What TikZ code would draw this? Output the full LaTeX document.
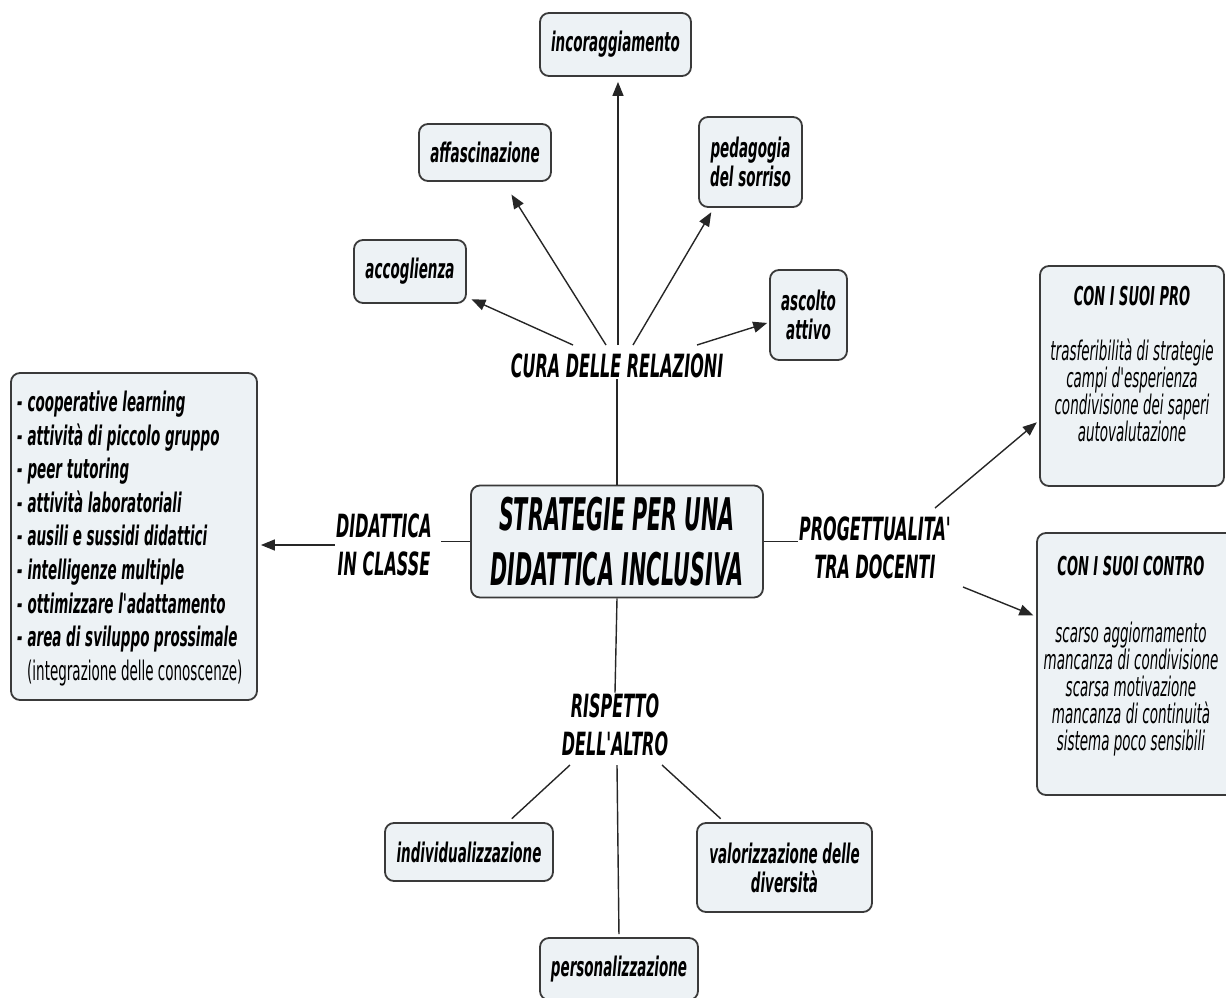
\documentclass[tikz,border=0pt]{standalone}
\usepackage{fontspec}
\setmainfont{DejaVu Sans}[FakeStretch=0.5, Ligatures=TeXOff]
\newfontfamily\bigfam{DejaVu Sans}[FakeStretch=0.46, Ligatures=TeXOff]
\usetikzlibrary{arrows.meta,calc}
\definecolor{boxfill}{HTML}{EDF2F5}
\definecolor{edgegray}{HTML}{3A3A3A}
\begin{document}
\begin{tikzpicture}[x=1pt,y=-1pt,
  bx/.style={draw=edgegray, line width=1.8pt, fill=boxfill, rounded corners=9pt,
    align=center, inner sep=0pt, font=\bfseries\itshape\fontsize{27}{29}\selectfont},
  lbl/.style={align=center, inner sep=1pt, font=\bfseries\itshape\fontsize{32}{38}\selectfont},
  txt/.style={align=center, inner sep=0pt},
  conn/.style={draw=black!85, line width=1.4pt},
  arr/.style={conn, -{Triangle[length=14pt,width=11pt]}, shorten >=3pt},
]
\useasboundingbox (0,0) rectangle (1226,998);

% central concept
\node[bx, minimum width=292pt, minimum height=112pt,
      font=\bigfam\bfseries\itshape\fontsize{45}{55}\selectfont] (main) at (617,541.5)
      {STRATEGIE PER UNA\\DIDATTICA INCLUSIVA};

% linking phrases
\node[lbl] (cura) at (617,366) {CURA DELLE RELAZIONI};
\node[lbl] (did) at (384,545) {DIDATTICA\\IN CLASSE};
\node[lbl] (prog) at (875,548) {PROGETTUALITA'\\TRA DOCENTI};
\node[lbl] (risp) at (615,725) {RISPETTO\\DELL'ALTRO};

% top concepts
\node[bx, minimum width=151pt, minimum height=63pt] (inc) at (615.5,44.5) {incoraggiamento};
\node[bx, minimum width=132pt, minimum height=57pt] (aff) at (485,152.5) {affascinazione};
\node[bx, minimum width=103pt, minimum height=90pt] (ped) at (750.5,162) {pedagogia\\del sorriso};
\node[bx, minimum width=112pt, minimum height=63pt] (acc) at (410,271.5) {accoglienza};
\node[bx, minimum width=77pt, minimum height=90pt] (asc) at (808.5,315) {ascolto\\attivo};

% left concept
\node[bx, minimum width=246pt, minimum height=327pt] (left) at (134,536.5) {};
\node[txt, anchor=west, align=left, font=\bfseries\itshape\fontsize{27}{33.6}\selectfont]
  (lefttext) at (17,538.5)
  {- cooperative learning\\
   - attività di piccolo gruppo\\
   - peer tutoring\\
   - attività laboratoriali\\
   - ausili e sussidi didattici\\
   - intelligenze multiple\\
   - ottimizzare l'adattamento\\
   - area di sviluppo prossimale\\
   \hspace*{10pt}{\mdseries\upshape (integrazione delle conoscenze)}};

% right concepts
\node[bx, minimum width=184pt, minimum height=220pt] (pro) at (1132,376) {};
\node[txt, font=\itshape\fontsize{27}{26}\selectfont] (protext) at (1132,364)
  {{\bfseries\fontsize{26}{26}\selectfont CON I SUOI PRO}\\[29pt]
   trasferibilità di strategie\\
   campi d'esperienza\\
   condivisione dei saperi\\
   autovalutazione};
\node[bx, minimum width=203pt, minimum height=262pt] (con) at (1138.5,664) {};
\node[txt, font=\itshape\fontsize{27}{27}\selectfont] (context) at (1131,656)
  {{\bfseries\fontsize{26}{27}\selectfont CON I SUOI CONTRO}\\[40pt]
   scarso aggiornamento\\
   mancanza di condivisione\\
   scarsa motivazione\\
   mancanza di continuità\\
   sistema poco sensibili};

% bottom concepts
\node[bx, minimum width=168pt, minimum height=58pt] (ind) at (469,852) {individualizzazione};
\node[bx, minimum width=175pt, minimum height=89pt] (val) at (784.5,867.5) {valorizzazione delle\\diversità};
\node[bx, minimum width=158pt, minimum height=62pt] (per) at (619,969) {personalizzazione};

% connectors: centre to linking phrases
\draw[conn] (main.north) -- (cura.south);
\draw[conn] (main.south) -- (risp.north);
\draw[conn, shorten >=8pt] (main.west) -- (main.west -| did.east);
\draw[conn] (main.east) -- (main.east -| prog.west);

% CURA DELLE RELAZIONI
\coordinate (c1) at ($(cura.center)+(-44,-21)$);
\coordinate (c2) at ($(cura.center)+(-11,-21)$);
\coordinate (c3) at ($(cura.center)+(1,-21)$);
\coordinate (c4) at ($(cura.center)+(16,-21)$);
\coordinate (c5) at ($(cura.center)+(80,-21)$);
\draw[arr, shorten >=5pt] (c1) -- (acc);
\draw[arr, shorten >=15pt] (c2) -- (aff);
\draw[arr, shorten >=5pt] (c3) -- (c3 |- inc.south);
\draw[arr, shorten >=5pt] (c4) -- ($(ped.south west)!0.15!(ped.south east)$);
\draw[arr, shorten >=2pt] (c5) -- ($(asc.north west)!0.58!(asc.south west)$);

% DIDATTICA IN CLASSE
\draw[arr] (did.west) -- (left.east |- did.west);

% PROGETTUALITA' TRA DOCENTI
\coordinate (p1) at ($(prog.center)+(60,-40)$);
\coordinate (p2) at ($(prog.center)+(88,39)$);
\draw[arr] (p1) -- ($(pro.south west)!0.3!(pro.north west)$);
\draw[arr] (p2) -- ($(con.north west)!0.32!(con.south west)$);

% RISPETTO DELL'ALTRO
\coordinate (r1) at ($(risp.center)+(-45,40)$);
\coordinate (r2) at ($(risp.center)+(2,40)$);
\coordinate (r3) at ($(risp.center)+(47,40)$);
\draw[conn, shorten >=5pt] (r1) -- ($(ind.north west)!0.73!(ind.north east)$);
\draw[conn, shorten >=3pt] (r2) -- (per.north);
\draw[conn, shorten >=5pt] (r3) -- ($(val.north west)!0.16!(val.north east)$);
\end{tikzpicture}
\end{document}
